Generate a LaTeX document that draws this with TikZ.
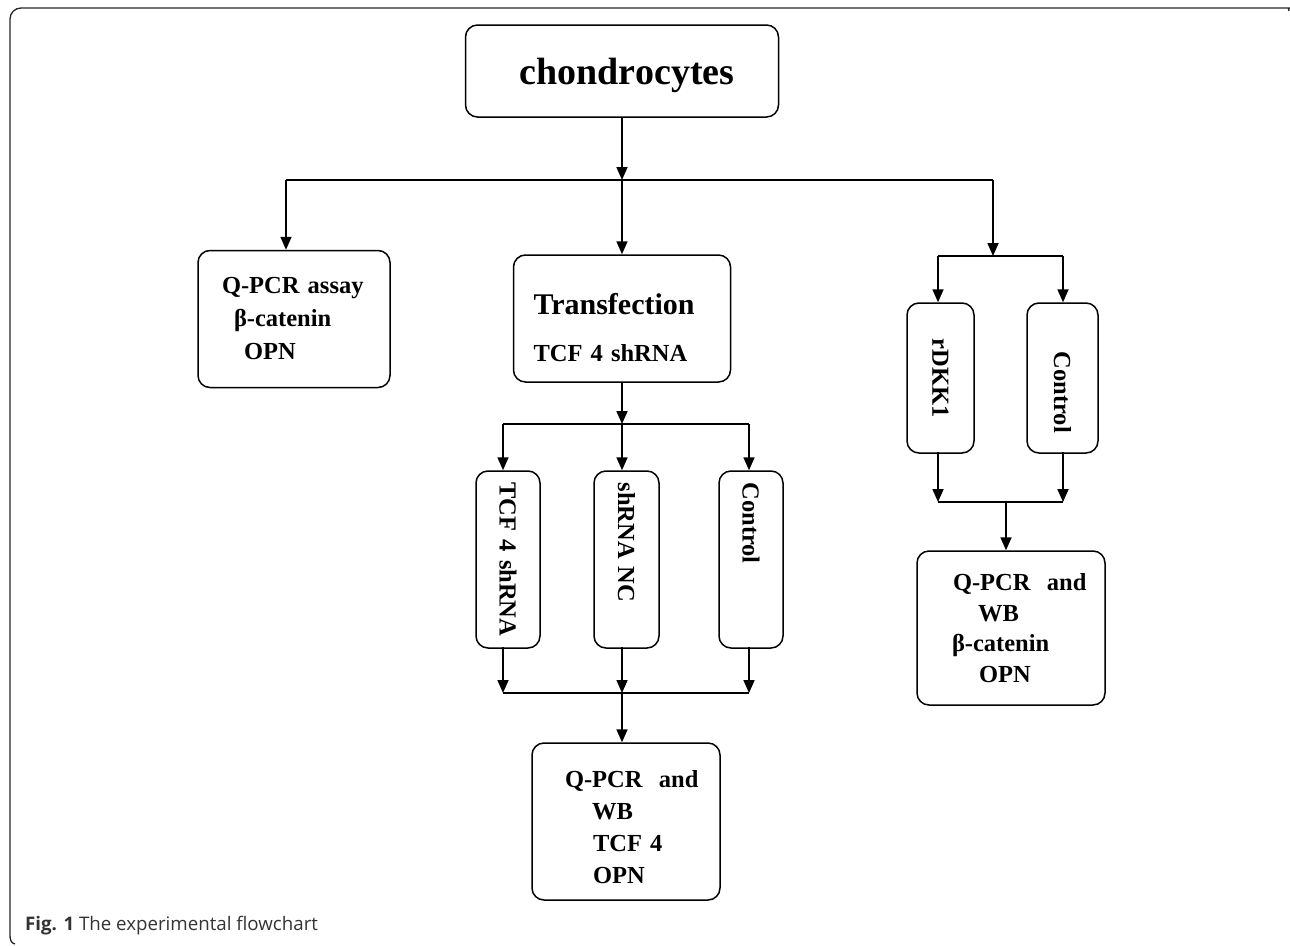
\documentclass[tikz,border=0pt]{standalone}
\usepackage{fontspec}
\setmainfont{Liberation Serif}
\newfontfamily\capfont{Open Sans}
\usetikzlibrary{arrows.meta}
\begin{document}
\begin{tikzpicture}[x=1pt,y=-1pt,
  box/.style={draw, line width=1.5pt, rounded corners=12pt, inner sep=0pt,
    font=\bfseries\fontsize{24.5}{32}\selectfont},
  vbox/.style={box, rotate=-90},
  arr/.style={line width=1.7pt, -{Triangle[width=11pt,length=13pt]}},
  ln/.style={line width=1.7pt}]
\useasboundingbox (0,0) rectangle (1290,945);

% frame
\draw[line width=1.3pt, black!85] (15,944) .. controls (11,943) and (10,940) .. (10,935)
  {[rounded corners=11pt] -- (10,8) -- (1286,8)} .. controls (1288,8) .. (1289,11);
\node[anchor=base west, inner sep=0pt, text=black!80,
  font=\capfont\fontsize{18.7}{22}\selectfont] (cap) at (25,930)
  {\textbf{Fig. 1} The experimental flowchart};

% nodes
\node[box, minimum width=313pt, minimum height=92pt, text height=32pt, text depth=6pt,
  font=\bfseries\fontsize{38}{44}\selectfont] (chondro) at (622,71)
  {\hspace*{10pt}chondrocytes};
\node[box, minimum width=192pt, minimum height=137pt, text width=144pt, align=left,
  font=\bfseries\fontsize{24.5}{33}\selectfont] (qpcr) at (294,319)
  {Q-PCR assay\\\hspace*{12pt}β-catenin\\\hspace*{22pt}OPN};
\node[box, minimum width=217pt, minimum height=127pt, text width=177pt, align=left]
  (transf) at (622,318.5)
  {\rule{0pt}{39pt}{\fontsize{30}{30}\selectfont Transfection}\\[15pt]TCF 4 shRNA};

\node[vbox, minimum width=177pt, minimum height=64pt, text width=162pt, align=left]
  (tcf) at (508,559.5) {\hspace*{4pt}TCF 4 shRNA};
\node[vbox, minimum width=177pt, minimum height=65pt, text width=162pt, align=left]
  (nc) at (626.5,559.5) {\hspace*{4pt}shRNA NC};
\node[vbox, minimum width=177pt, minimum height=64pt, text width=162pt, align=left]
  (ctrlA) at (751,559.5) {\hspace*{4pt}Control};

\node[box, minimum width=188pt, minimum height=157pt, text width=150pt, align=left]
  (res1) at (626,821.5)
  {\rule{0pt}{28pt}\hspace*{14pt}Q-PCR\ \ and\\\hspace*{41pt}WB\\\hspace*{42pt}TCF 4\\\hspace*{42pt}OPN};

\node[vbox, minimum width=150pt, minimum height=67pt, align=center]
  (rdkk) at (940.5,378) {rDKK1};
\node[vbox, minimum width=150pt, minimum height=71pt, text width=110pt, align=right]
  (ctrlB) at (1062.5,378) {Control};

\node[box, minimum width=188pt, minimum height=154pt, text width=162pt, align=left,
  font=\bfseries\fontsize{24.5}{30.5}\selectfont]
  (res2) at (1011,628)
  {\hspace*{23pt}Q-PCR\ \ and\\\hspace*{48pt}WB\\\hspace*{22pt}β-catenin\\\hspace*{49pt}OPN};

% connectors
\coordinate (j1) at (622,180);
\coordinate (j1L) at (286,180);
\coordinate (j1R) at (993,180);
\draw[arr] (chondro.south) -- (j1);
\draw[ln] (j1L) -- (j1R);
\draw[arr] (j1L) -- (j1L |- qpcr.north);
\draw[arr] (j1) -- (transf.north);

\coordinate (j2) at (993,256);
\coordinate (j2L) at (938,256);
\coordinate (j2R) at (1063,256);
\draw[arr] (j1R) -- (j2);
\draw[ln] (j2L) -- (j2R);
\draw[arr] (j2L) -- (j2L |- rdkk.west);
\draw[arr] (j2R) -- (j2R |- ctrlB.west);

\coordinate (j3) at (1006,502);
\coordinate (j3L) at (938,502);
\coordinate (j3R) at (1063,502);
\draw[arr] ([yshift=2pt]j2L |- rdkk.east) -- (j3L);
\draw[arr] ([yshift=2pt]j2R |- ctrlB.east) -- (j3R);
\draw[ln] (j3L) -- (j3R);
\draw[arr] (j3) -- (j3 |- res2.north);

\coordinate (j4) at (622,424);
\coordinate (j4L) at (503,424);
\coordinate (j4R) at (749,424);
\draw[arr] (transf.south) -- (j4);
\draw[ln] (j4L) -- (j4R);
\draw[arr] (j4L) -- (j4L |- tcf.west);
\draw[arr] (j4) -- (j4 |- nc.west);
\draw[arr] (j4R) -- (j4R |- ctrlA.west);

\coordinate (j5) at (622,693);
\coordinate (j5L) at (503,693);
\coordinate (j5R) at (749,693);
\draw[arr] ([yshift=2pt]j4L |- tcf.east) -- (j5L);
\draw[arr] ([yshift=2pt]j4 |- nc.east) -- (j5);
\draw[arr] ([yshift=2pt]j4R |- ctrlA.east) -- (j5R);
\draw[ln] (j5L) -- (j5R);
\draw[arr] (j5) -- (j5 |- res1.north);
\end{tikzpicture}
\end{document}
